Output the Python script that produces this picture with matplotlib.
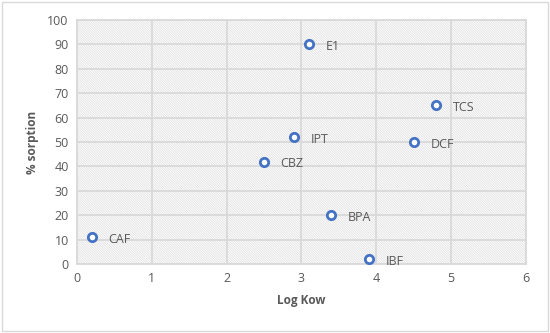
import matplotlib.pyplot as plt
from matplotlib.patches import Rectangle

compounds = ["CAF", "CBZ", "IPT", "E1", "TCS", "DCF", "BPA", "IBF"]
log_kow = [0.2, 2.5, 2.9, 3.1, 4.8, 4.5, 3.4, 3.9]
sorption = [11, 42, 52, 90, 65, 50, 20, 2]

plt.rcParams['font.family'] = ['Open Sans', 'DejaVu Sans']
plt.rcParams['hatch.linewidth'] = 0.5
text_col = '#595959'
grid_col = '#d9d9d9'

fig = plt.figure(figsize=(5.5, 3.33), dpi=100)
fig.patches.append(Rectangle((0.004, 0.006), 0.992, 0.988, transform=fig.transFigure,
                             fill=False, edgecolor='#d9d9d9', linewidth=1))
ax = fig.add_axes([0.14, 0.207, 0.816, 0.733])

# hatched plot background
ax.add_patch(Rectangle((0, 0), 1, 1, transform=ax.transAxes, facecolor='white',
                       edgecolor='#dcdcdc', hatch='\\' * 14, linewidth=0, zorder=0))

ax.scatter(log_kow, sorption, s=36, facecolors='white', edgecolors='#4472c4',
           linewidths=2, zorder=3)
for name, x, y in zip(compounds, log_kow, sorption):
    ax.annotate(name, (x, y), xytext=(12, -4), textcoords='offset points',
                fontsize=9, color=text_col, zorder=4)

ax.set_xlim(0, 6)
ax.set_ylim(0, 100)
ax.set_xticks(range(0, 7))
ax.set_yticks(range(0, 101, 10))
ax.grid(True, color=grid_col, linewidth=1.3)
ax.set_axisbelow(True)
for s in ax.spines.values():
    s.set_color(grid_col)
    s.set_linewidth(1.3)
ax.tick_params(length=0, colors=text_col, labelsize=9, pad=6)
ax.set_xlabel("Log Kow", fontsize=8.5, color=text_col, fontweight='bold', labelpad=6)
ax.set_ylabel("% sorption", fontsize=8.5, color=text_col, fontweight='bold', labelpad=6)

fig.savefig("out.png", dpi=100)
